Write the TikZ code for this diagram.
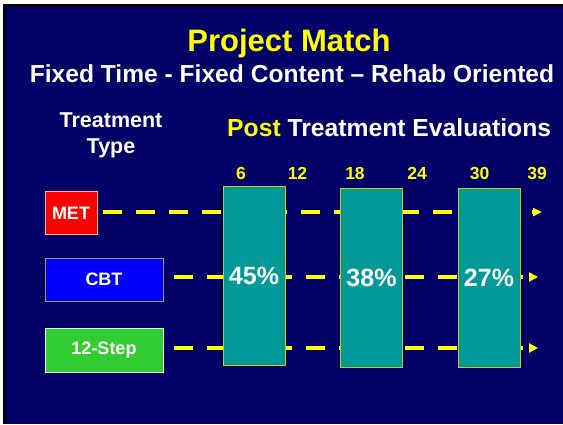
\documentclass[tikz,border=0pt]{standalone}
\usepackage{fontspec}
\setmainfont{Liberation Sans}
\usetikzlibrary{arrows.meta}
\definecolor{navy}{HTML}{000066}
\definecolor{ttitle}{HTML}{FFFF00}
\definecolor{teal2}{HTML}{009999}
\definecolor{tealedge}{HTML}{CCCC00}
\definecolor{metred}{HTML}{FF0000}
\definecolor{metedge}{HTML}{FFAAAA}
\definecolor{cbtblue}{HTML}{0000FF}
\definecolor{cbtedge}{HTML}{999944}
\definecolor{stepgreen}{HTML}{33CC33}
\definecolor{stepedge}{HTML}{DDFFDD}
\tikzset{
  txt/.style={inner sep=0pt, anchor=base, font=\bfseries\fontsize{#1}{#1}\selectfont},
  numlbl/.style={txt=17.5, text=ttitle},
  tbox/.style={draw=#1, line width=1pt, inner sep=0pt, text=white, font=\bfseries\fontsize{18}{18}\selectfont, minimum height=43pt},
  evalbox/.style={draw=tealedge, fill=teal2, line width=1pt, inner sep=0pt, text=white, minimum width=62pt, minimum height=179pt, font=\bfseries\fontsize{25}{25}\selectfont},
  dashline/.style={draw=ttitle, line width=4pt, dash pattern=on 19pt off 14pt},
}
\begin{document}
\begin{tikzpicture}[x=1pt,y=-1pt]
\useasboundingbox (0,0) rectangle (563,424);
\fill[white] (0,0) rectangle (563,424);
\fill[black] (2.5,3.5) rectangle (563,424);
\fill[navy] (6,6.5) rectangle (563,424);

% titles
\node[txt=31, text=ttitle] (title) at (289,51) {Project Match};
\node[txt=24.6, text=white] (subtitle) at (292,82) {Fixed Time - Fixed Content – Rehab Oriented};
\node[txt=21.5, text=white] (treat) at (111,127) {Treatment};
\node[txt=21.5, text=white] (type) at (111,153) {Type};
\node[txt=24.7, text=white, anchor=base west] (post) at (227,136) {\textcolor{ttitle}{Post} Treatment Evaluations};

% month numbers
\node[numlbl] (m6) at (241,179) {6};
\node[numlbl] (m12) at (297.5,179) {12};
\node[numlbl] (m18) at (355,179) {18};
\node[numlbl] (m24) at (417,179) {24};
\node[numlbl] (m30) at (479.5,179) {30};
\node[numlbl] (m39) at (537,179) {39};

% treatment boxes
\node[tbox=metedge, fill=metred, minimum width=52pt] (met) at (71,213) {MET};
\node[tbox=cbtedge, fill=cbtblue, minimum width=118pt] (cbt) at (104,279.5) {CBT};
\node[tbox=stepedge, fill=stepgreen, minimum width=118pt, minimum height=44pt] (step12) at (104,350) {12-Step};

% line ends
\coordinate (metend) at (542,212);
\coordinate (cbtend) at (538,277);
\coordinate (stepend) at (538,348);

% dashed timelines
\draw[dashline, -{Triangle[length=9pt,width=8pt]}] ([xshift=5pt]met.east |- metend) -- (metend);
\draw[dashline, -{Triangle[length=9pt,width=9pt]}] ([xshift=10pt]cbt.east |- cbtend) -- (cbtend);
\draw[dashline, -{Triangle[length=9pt,width=9pt]}] ([xshift=10pt]step12.east |- stepend) -- (stepend);

% evaluation boxes
\node[evalbox] (e1) at (254,275.5) {45\%};
\node[evalbox] (e2) at (371.5,277.5) {38\%};
\node[evalbox] (e3) at (489,277.5) {27\%};
\end{tikzpicture}
\end{document}
